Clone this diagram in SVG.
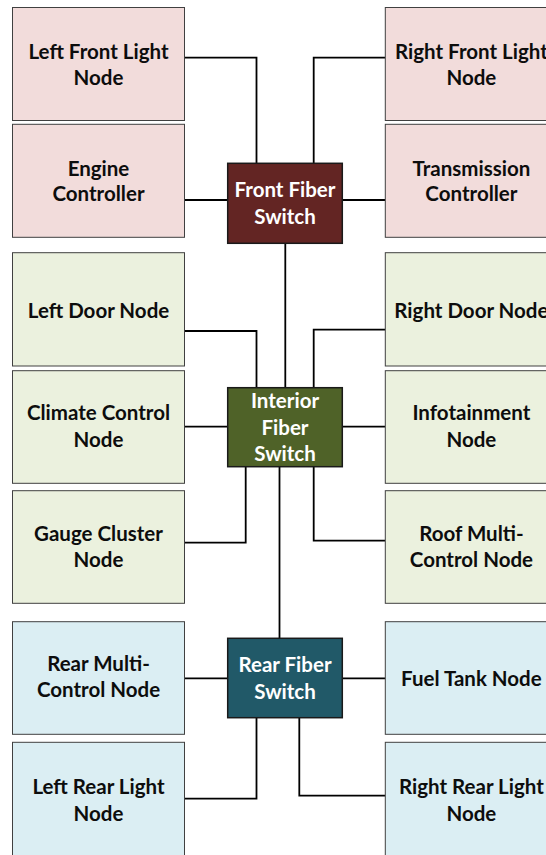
<svg xmlns="http://www.w3.org/2000/svg" width="546" height="855" viewBox="0 0 546 855">
  <style>
    .box { stroke: #404040; stroke-width: 1; }
    .front { fill: #F2DCDB; }
    .interior { fill: #EBF1DE; }
    .rear { fill: #DBEEF3; }
    .sw { stroke: #1a1a1a; stroke-width: 1.5; }
    .label { font-family: Lato, "Open Sans", "Liberation Sans", sans-serif; font-weight: bold; font-size: 20.5px; text-anchor: middle; fill: #0d0d0d; }
    .swlabel { font-family: Lato, "Open Sans", "Liberation Sans", sans-serif; font-weight: bold; font-size: 20.5px; text-anchor: middle; fill: #ffffff; }
    .wire { fill: none; stroke: #000000; stroke-width: 1.8; }
  </style>
  <rect width="546" height="855" fill="#ffffff"/>

  <!-- Connectors -->
  <g id="connectors">
    <path class="wire" d="M184.5,57.7 H256.5 V163.3"/>
    <path class="wire" d="M385.3,57.7 H313.7 V163.3"/>
    <path class="wire" d="M184.5,200 H227.7"/>
    <path class="wire" d="M342.3,200 H385.3"/>
    <path class="wire" d="M285.3,243.3 V387.7"/>
    <path class="wire" d="M184.5,331 H256.5 V387.7"/>
    <path class="wire" d="M385.3,329.7 H313.7 V387.7"/>
    <path class="wire" d="M184.5,426.7 H227.7"/>
    <path class="wire" d="M342.3,426.7 H385.3"/>
    <path class="wire" d="M245.7,466.7 V542.7 H184.5"/>
    <path class="wire" d="M313.7,466.7 V540.7 H385.3"/>
    <path class="wire" d="M279.5,466.7 V638.3"/>
    <path class="wire" d="M184.5,678.3 H227.7"/>
    <path class="wire" d="M342.3,678.3 H385.3"/>
    <path class="wire" d="M256.5,717.7 V798.7 H184.5"/>
    <path class="wire" d="M299.3,717.7 V795.7 H385.3"/>
  </g>

  <!-- Front zone -->
  <g id="left-front-light">
    <rect class="box front" x="12.5" y="7.5" width="172" height="113"/>
    <text class="label" x="98.5" y="59">Left Front Light</text>
    <text class="label" x="98.5" y="84.5">Node</text>
  </g>
  <g id="engine-controller">
    <rect class="box front" x="12.5" y="124.3" width="172" height="113"/>
    <text class="label" x="98.5" y="175.5">Engine</text>
    <text class="label" x="98.5" y="201">Controller</text>
  </g>
  <g id="right-front-light">
    <rect class="box front" x="385.3" y="7.5" width="172" height="113"/>
    <text class="label" x="471.4" y="59">Right Front Light</text>
    <text class="label" x="471.4" y="84.5">Node</text>
  </g>
  <g id="transmission-controller">
    <rect class="box front" x="385.3" y="124.3" width="172" height="113"/>
    <text class="label" x="471.4" y="175.5">Transmission</text>
    <text class="label" x="471.4" y="201">Controller</text>
  </g>
  <g id="front-fiber-switch">
    <rect class="sw" x="227.7" y="163.3" width="114.6" height="80" fill="#632523"/>
    <text class="swlabel" x="285" y="197">Front Fiber</text>
    <text class="swlabel" x="285" y="223.5">Switch</text>
  </g>

  <!-- Interior zone -->
  <g id="left-door-node">
    <rect class="box interior" x="12.5" y="252.7" width="172" height="113.3"/>
    <text class="label" x="98.5" y="317.5">Left Door Node</text>
  </g>
  <g id="climate-control-node">
    <rect class="box interior" x="12.5" y="370.7" width="172" height="112.6"/>
    <text class="label" x="98.5" y="420">Climate Control</text>
    <text class="label" x="98.5" y="446.5">Node</text>
  </g>
  <g id="gauge-cluster-node">
    <rect class="box interior" x="12.5" y="490.7" width="172" height="112.6"/>
    <text class="label" x="98.5" y="540.5">Gauge Cluster</text>
    <text class="label" x="98.5" y="567">Node</text>
  </g>
  <g id="right-door-node">
    <rect class="box interior" x="385.3" y="252.7" width="172" height="113.3"/>
    <text class="label" x="471.4" y="317.5">Right Door Node</text>
  </g>
  <g id="infotainment-node">
    <rect class="box interior" x="385.3" y="370.7" width="172" height="112.6"/>
    <text class="label" x="471.4" y="420">Infotainment</text>
    <text class="label" x="471.4" y="446.5">Node</text>
  </g>
  <g id="roof-multi-control-node">
    <rect class="box interior" x="385.3" y="490.7" width="172" height="112.6"/>
    <text class="label" x="471.4" y="540.5">Roof Multi-</text>
    <text class="label" x="471.4" y="567">Control Node</text>
  </g>
  <g id="interior-fiber-switch">
    <rect class="sw" x="227.7" y="387.7" width="114.6" height="79" fill="#4F6228"/>
    <text class="swlabel" x="285" y="408">Interior</text>
    <text class="swlabel" x="285" y="434.5">Fiber</text>
    <text class="swlabel" x="285" y="461">Switch</text>
  </g>

  <!-- Rear zone -->
  <g id="rear-multi-control-node">
    <rect class="box rear" x="12.5" y="621.7" width="172" height="112.6"/>
    <text class="label" x="98.5" y="671">Rear Multi-</text>
    <text class="label" x="98.5" y="697">Control Node</text>
  </g>
  <g id="left-rear-light-node">
    <rect class="box rear" x="12.5" y="742.3" width="172" height="114"/>
    <text class="label" x="98.5" y="794">Left Rear Light</text>
    <text class="label" x="98.5" y="820.5">Node</text>
  </g>
  <g id="fuel-tank-node">
    <rect class="box rear" x="385.3" y="621.7" width="172" height="112.6"/>
    <text class="label" x="471.4" y="686">Fuel Tank Node</text>
  </g>
  <g id="right-rear-light-node">
    <rect class="box rear" x="385.3" y="742.3" width="172" height="114"/>
    <text class="label" x="471.4" y="794">Right Rear Light</text>
    <text class="label" x="471.4" y="820.5">Node</text>
  </g>
  <g id="rear-fiber-switch">
    <rect class="sw" x="227.7" y="638.3" width="114.6" height="79.4" fill="#215968"/>
    <text class="swlabel" x="285" y="672">Rear Fiber</text>
    <text class="swlabel" x="285" y="698.5">Switch</text>
  </g>
</svg>
